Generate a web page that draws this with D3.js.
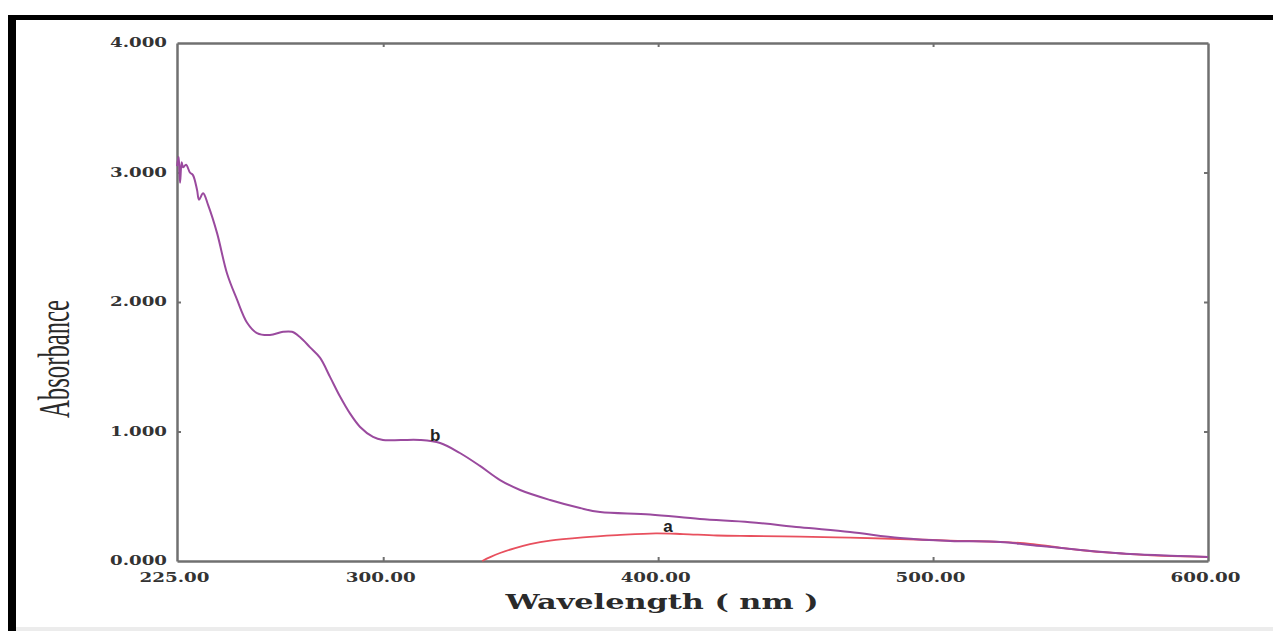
<!DOCTYPE html>
<html>
<head>
<meta charset="utf-8">
<script src="https://cdn.jsdelivr.net/npm/d3@7/dist/d3.min.js"></script>
<style>
  html, body { margin: 0; padding: 0; background: #ffffff; }
  svg { display: block; }
</style>
</head>
<body>
<svg id="chart" width="1273" height="631"></svg>
<script>
// Absorption spectra: wavelength (nm) vs absorbance
const wavelengthB = [225, 225.6, 226.1, 226.7, 227.2, 228.3, 229.7, 230.8, 232.3, 233.0, 234.5, 236.3,
  239.6, 243.2, 246.8, 250.5, 254.1, 258.8, 263.6, 266.8, 269.7, 273.4, 277.0, 280.7, 284.3,
  287.9, 291.6, 296.3, 299.9, 306.5, 313.4, 320.7, 327.9, 335.2, 342.5, 349.8, 360.7, 371.6,
  378.9, 397.1, 415.2, 433.4, 451.6, 469.8, 488.0, 506.2, 524.4, 535.3, 553.5, 571.7, 589.9, 600];
const absorbanceB = [3.05, 3.12, 2.92, 3.08, 3.04, 3.06, 3.0, 2.98, 2.865, 2.79, 2.84, 2.75,
  2.53, 2.22, 2.02, 1.84, 1.76, 1.745, 1.77, 1.77, 1.73, 1.65, 1.57, 1.42, 1.27,
  1.14, 1.035, 0.958, 0.934, 0.934, 0.934, 0.911, 0.834, 0.734, 0.625, 0.548, 0.471, 0.409,
  0.378, 0.36, 0.324, 0.30, 0.26, 0.224, 0.178, 0.155, 0.147, 0.124, 0.085, 0.054, 0.039, 0.031];

const wavelengthA = [336.0, 338.9, 342.5, 348.0, 353.4, 360.7, 372.7, 385.1, 399.2, 409.1, 421.4,
  433.4, 451.6, 469.8, 488.0, 506.2, 524.4, 535.3, 544.4, 553.5, 565.5, 583.7, 600];
const absorbanceA = [0, 0.03, 0.062, 0.10, 0.13, 0.158, 0.183, 0.20, 0.214, 0.208, 0.197,
  0.193, 0.189, 0.18, 0.17, 0.158, 0.147, 0.133, 0.108, 0.085, 0.062, 0.039, 0.031];

const xTicks = [225, 300, 400, 500, 600];
const yTicks = [0, 1, 2, 3, 4];
const curveLabels = [
  { text: "b", wl: 318.9, abs: 0.927 },
  { text: "a", wl: 403.6, abs: 0.224 }
];

const svg = d3.select("#chart");

// outer frame: heavy rules on top and left, faint edge at the bottom
svg.append("rect").attr("x", 8).attr("y", 15).attr("width", 1265).attr("height", 5).attr("fill", "#000");
svg.append("rect").attr("x", 8).attr("y", 15).attr("width", 8).attr("height", 616).attr("fill", "#000");
svg.append("rect").attr("x", 16).attr("y", 627).attr("width", 1257).attr("height", 4).attr("fill", "#ececec");

const plot = { left: 177, right: 1208, top: 43, bottom: 561 };

const x = d3.scaleLinear().domain([225, 600]).range([plot.left, plot.right]);
const y = d3.scaleLinear().domain([0, 4]).range([plot.bottom, plot.top]);

const axisColor = "#707070";
const labelFont = "'DejaVu Serif', 'Liberation Serif', serif";

function styleAxis(g) {
  g.select(".domain").attr("stroke", axisColor).attr("stroke-width", 2.5);
  g.selectAll(".tick line").attr("stroke", axisColor).attr("stroke-width", 2);
}

// left axis with labels
const gLeft = svg.append("g").attr("transform", `translate(${plot.left},0)`)
  .call(d3.axisLeft(y).tickValues(yTicks).tickFormat(d3.format(".3f"))
    .tickSize(-4).tickSizeOuter(0).tickPadding(10));
styleAxis(gLeft);
gLeft.selectAll(".tick line").filter(d => d === 0 || d === 4).remove();
gLeft.selectAll(".tick text")
  .attr("font-family", labelFont).attr("font-weight", "bold").attr("font-size", 12)
  .attr("fill", "#333").attr("textLength", 57).attr("lengthAdjust", "spacingAndGlyphs");

// bottom axis with labels
const gBottom = svg.append("g").attr("transform", `translate(0,${plot.bottom})`)
  .call(d3.axisBottom(x).tickValues(xTicks).tickFormat(d3.format(".2f"))
    .tickSize(-4).tickSizeOuter(0).tickPadding(12));
styleAxis(gBottom);
gBottom.selectAll(".tick line").filter(d => d === 225 || d === 600).remove();
gBottom.selectAll(".tick text")
  .attr("font-family", labelFont).attr("font-weight", "bold").attr("font-size", 12)
  .attr("fill", "#333").attr("textLength", 70).attr("lengthAdjust", "spacingAndGlyphs")
  .attr("dx", -3);

// top and right frame axes, ticks only
const gTop = svg.append("g").attr("transform", `translate(0,${plot.top})`)
  .call(d3.axisTop(x).tickValues(xTicks.slice(1, -1)).tickFormat("").tickSize(-4).tickSizeOuter(0));
styleAxis(gTop);
const gRight = svg.append("g").attr("transform", `translate(${plot.right},0)`)
  .call(d3.axisRight(y).tickValues(yTicks.slice(1, -1)).tickFormat("").tickSize(-4).tickSizeOuter(0));
styleAxis(gRight);

// spectra
const line = d3.line().x(d => x(d[0])).y(d => y(d[1])).curve(d3.curveCatmullRom.alpha(0.5));

svg.append("path")
  .datum(d3.zip(wavelengthA, absorbanceA))
  .attr("d", line)
  .attr("fill", "none").attr("stroke", "#e8505e").attr("stroke-width", 1.8);

svg.append("path")
  .datum(d3.zip(wavelengthB, absorbanceB))
  .attr("d", line)
  .attr("fill", "none").attr("stroke", "#9a4a9e").attr("stroke-width", 2);

// curve labels
svg.selectAll(".curve-label").data(curveLabels).enter().append("text")
  .attr("class", "curve-label")
  .attr("x", d => x(d.wl)).attr("y", d => y(d.abs))
  .attr("text-anchor", "middle")
  .attr("font-family", "'Liberation Sans', Arial, sans-serif")
  .attr("font-weight", "bold").attr("font-size", 17).attr("fill", "#222")
  .text(d => d.text);

// axis titles
svg.append("text")
  .attr("x", 662).attr("y", 609)
  .attr("text-anchor", "middle")
  .attr("font-family", labelFont).attr("font-weight", "bold").attr("font-size", 21)
  .attr("fill", "#2a2a2a").attr("textLength", 313).attr("lengthAdjust", "spacingAndGlyphs")
  .text("Wavelength ( nm )");

svg.append("text")
  .attr("transform", "translate(69,359) rotate(-90)")
  .attr("text-anchor", "middle")
  .attr("font-family", "'Liberation Serif', 'Times New Roman', serif")
  .attr("font-size", 44)
  .attr("fill", "#2a2a2a").attr("textLength", 118).attr("lengthAdjust", "spacingAndGlyphs")
  .text("Absorbance");
</script>
</body>
</html>
